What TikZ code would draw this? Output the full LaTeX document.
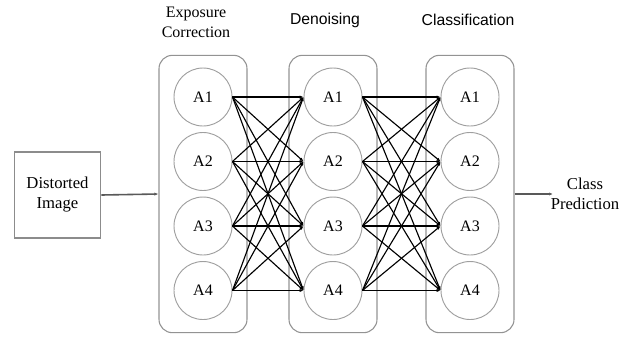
\documentclass[tikz,border=0pt]{standalone}
\usepackage{fontspec}
\setmainfont{Liberation Serif}
\newfontfamily\headsans{Liberation Sans}
\usetikzlibrary{positioning,arrows.meta}

\begin{document}
\begin{tikzpicture}[x=0.75pt,y=-0.75pt,
layer/.style={draw=gray!85,line width=0.8pt,rounded corners=10pt,minimum width=66pt,minimum height=208pt},
unit/.style={draw=gray!75,circle,line width=0.7pt,minimum size=43.5pt,inner sep=0pt},
link/.style={line width=0.85pt,black,-{Latex[length=3pt,width=2.4pt]}},
flow/.style={line width=1.2pt,black!65,-{Latex[length=3pt,width=2.4pt]}},
heading/.style={align=center,font=\fontsize{12}{15}\selectfont},
sansheading/.style={align=center,font=\headsans\fontsize{11.8}{14}\selectfont},
font=\fontsize{12.5}{15}\selectfont]
\useasboundingbox (0,0) rectangle (639,337);

\node (img) [draw=gray!90,line width=0.8pt,minimum width=65pt,minimum height=64.5pt,align=center] at (57.5,195) {Distorted\\Image};

\foreach \col/\x in {1/203,2/333,3/470} {
  \node (layer\col) [layer] at (\x,194) {};
  \foreach \row in {1,...,4}
    \node (a\col\row) [unit,font=\fontsize{12}{14}\selectfont] at (\x,{97+64.5*(\row-1)}) {A\row};
}

\foreach \row in {1,...,4}
  \foreach \next in {1,...,4} {
    \draw [link] (a1\row.east) -- (a2\next.west);
    \draw [link] (a2\row.east) -- (a3\next.west);
  }

\node (exptitle) [heading] at (196,22) {Exposure\\Correction};
\node (dentitle) [sansheading] at (325,20) {Denoising};
\node (clstitle) [sansheading] at (468,20) {Classification};

\draw [flow] (img.east) -- (layer1.west);
\coordinate (out) at (553,194);
\draw [flow] (layer3.east) -- (out);
\node (pred) [align=center] at (585,194) {Class\\Prediction};
\end{tikzpicture}
\end{document}
